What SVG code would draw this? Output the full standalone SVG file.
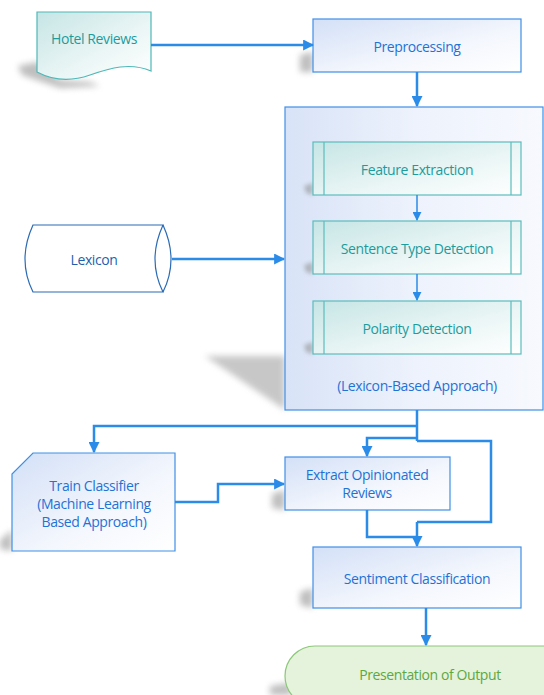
<svg xmlns="http://www.w3.org/2000/svg" width="544" height="695" viewBox="0 0 544 695">
<defs>
<linearGradient id="gBlue" x1="0" y1="0" x2="1" y2="1">
<stop offset="0" stop-color="#d3e0f7"/><stop offset="0.6" stop-color="#f4f7fd"/><stop offset="1" stop-color="#ffffff"/>
</linearGradient>
<linearGradient id="gBig" x1="0" y1="0" x2="1" y2="0">
<stop offset="0" stop-color="#d8e3f7"/><stop offset="0.5" stop-color="#edf2fc"/><stop offset="1" stop-color="#f7f9fe"/>
</linearGradient>
<linearGradient id="gTeal" x1="0" y1="0" x2="1" y2="1">
<stop offset="0" stop-color="#c6e5e5"/><stop offset="0.6" stop-color="#ecf6f6"/><stop offset="1" stop-color="#ffffff"/>
</linearGradient>
<filter id="blur" x="-50%" y="-50%" width="200%" height="200%"><feGaussianBlur stdDeviation="3"/></filter>
<filter id="blur2" x="-50%" y="-50%" width="200%" height="200%"><feGaussianBlur stdDeviation="2"/></filter>
<marker id="arr" viewBox="0 0 10 10" refX="9" refY="5" markerWidth="4.4" markerHeight="4.4" orient="auto" markerUnits="strokeWidth">
<path d="M0,0 L10,5 L0,10 z" fill="#2b8be8"/>
</marker>
<marker id="arrS" viewBox="0 0 10 10" refX="9" refY="5" markerWidth="6" markerHeight="6" orient="auto" markerUnits="strokeWidth">
<path d="M0,0 L10,5 L0,10 z" fill="#2b8be8"/>
</marker>
</defs>
<style>
.t{font-family:"Open Sans","Liberation Sans",sans-serif;font-size:14px;text-anchor:middle;dominant-baseline:central;letter-spacing:-0.4px}
.blue{fill:#1f72d6}
.teal{fill:#1c9c9c}
.green{fill:#5da83f}
.bx{fill:url(#gBlue);stroke:#3f8fe6;stroke-width:1.2}
.tb{fill:url(#gTeal);stroke:#5cbcbc;stroke-width:1.2}
.sh{fill:#8a8a8a;opacity:0.55;filter:url(#blur)}
.c{fill:none;stroke:#2b8be8;stroke-width:2.5;marker-end:url(#arr)}
.cs{fill:none;stroke:#2b8be8;stroke-width:1.5;marker-end:url(#arrS)}
.cn{fill:none;stroke:#2b8be8;stroke-width:2.5}
</style>
<rect width="544" height="695" fill="#ffffff"/>

<!-- shadows -->
<polygon class="sh" points="18,66 37,62 60,80 90,82 100,86 60,88 22,75"/>
<polygon class="sh" points="300,55 313,52 313,72 300,72"/>
<polygon points="205,356 285,356 285,410" fill="#9a9a9a" opacity="0.55" filter="url(#blur)"/>
<polygon class="sh" points="0,540 12,530 12,551 0,549"/>
<polygon class="sh" points="272,494 285,490 285,510 272,508"/>
<polygon class="sh" points="300,592 313,588 313,608 300,605"/>
<polygon class="sh" points="270,686 290,683 292,695 270,695"/>

<g id="hotel-reviews">
<path d="M37,12 H151 V71 C130,62 110,68 90,75 C70,82 52,80 37,72 Z" fill="url(#gTeal)" stroke="#4fb8b8" stroke-width="1.2"/>
<text class="t teal" x="94" y="38">Hotel Reviews</text>
</g>

<g id="preprocessing">
<rect class="bx" x="313" y="19" width="208" height="53"/>
<text class="t blue" x="417" y="46">Preprocessing</text>
</g>

<g id="lexicon-based">
<rect x="285" y="107" width="258" height="303" fill="url(#gBig)" stroke="#3f8fe6" stroke-width="1.2"/>
<text class="t blue" x="417" y="385">(Lexicon-Based Approach)</text>
</g>

<g id="feature-extraction">
<polygon class="sh" points="304,186 313,183 313,195 306,193" style="filter:url(#blur2)"/>
<rect class="tb" x="313" y="142" width="208" height="53"/>
<line x1="324" y1="142" x2="324" y2="195" stroke="#5cbcbc" stroke-width="1.2"/>
<line x1="511" y1="142" x2="511" y2="195" stroke="#5cbcbc" stroke-width="1.2"/>
<text class="t teal" x="417" y="169">Feature Extraction</text>
</g>

<g id="sentence-type-detection">
<polygon class="sh" points="304,265 313,262 313,274 306,272" style="filter:url(#blur2)"/>
<rect class="tb" x="313" y="221" width="208" height="53"/>
<line x1="324" y1="221" x2="324" y2="274" stroke="#5cbcbc" stroke-width="1.2"/>
<line x1="511" y1="221" x2="511" y2="274" stroke="#5cbcbc" stroke-width="1.2"/>
<text class="t teal" x="417" y="248">Sentence Type Detection</text>
</g>

<g id="polarity-detection">
<polygon class="sh" points="304,345 313,342 313,354 306,352" style="filter:url(#blur2)"/>
<rect class="tb" x="313" y="301" width="208" height="53"/>
<line x1="324" y1="301" x2="324" y2="354" stroke="#5cbcbc" stroke-width="1.2"/>
<line x1="511" y1="301" x2="511" y2="354" stroke="#5cbcbc" stroke-width="1.2"/>
<text class="t teal" x="417" y="328">Polarity Detection</text>
</g>

<g id="lexicon">
<path d="M33,225 H163 C158,236 155,248 155,259 C155,270 158,282 163,292 H33 C28,282 25,270 25,259 C25,248 28,236 33,225 Z" fill="#ffffff" stroke="#2a6bb4" stroke-width="1.2"/>
<path d="M163,225 C168,236 171,248 171,259 C171,270 168,282 163,292" fill="none" stroke="#2a6bb4" stroke-width="1.2"/>
<text class="t" x="94" y="259" fill="#1f5fae">Lexicon</text>
</g>

<g id="train-classifier">
<path d="M33,453 H175 V551 H12 V474 Z" class="bx"/>
<text class="t blue" x="94" y="485">Train Classifier</text>
<text class="t blue" x="94" y="503">(Machine Learning</text>
<text class="t blue" x="94" y="521">Based Approach)</text>
</g>

<g id="extract-opinionated">
<rect class="bx" x="285" y="457" width="165" height="53"/>
<text class="t blue" x="367" y="474">Extract Opinionated</text>
<text class="t blue" x="367" y="492">Reviews</text>
</g>

<g id="sentiment-classification">
<rect class="bx" x="313" y="547" width="208" height="61"/>
<text class="t blue" x="417" y="578">Sentiment Classification</text>
</g>

<g id="presentation">
<rect x="285" y="646" width="290" height="60" rx="30" fill="#e5f2dc" stroke="#8cc77a" stroke-width="1.2"/>
<text class="t green" x="430" y="674">Presentation of Output</text>
</g>

<g id="connectors">
<path class="c" d="M151,45 H313"/>
<path class="c" d="M417,72 V106"/>
<path class="cs" d="M417,195 V220"/>
<path class="cs" d="M417,274 V300"/>
<path class="c" d="M172,259 H284"/>
<path class="cn" d="M417,410 V441"/>
<path class="c" d="M417,426 H94 V452"/>
<path class="c" d="M417,438 H367 V456"/>
<path class="cn" d="M417,441 H491 V522 H417"/>
<path class="c" d="M175,502 H218 V484 H284"/>
<path class="cn" d="M367,510 V537 H417"/>
<path class="c" d="M417,522 V546"/>
<path class="c" d="M426,608 V645"/>
</g>
</svg>
